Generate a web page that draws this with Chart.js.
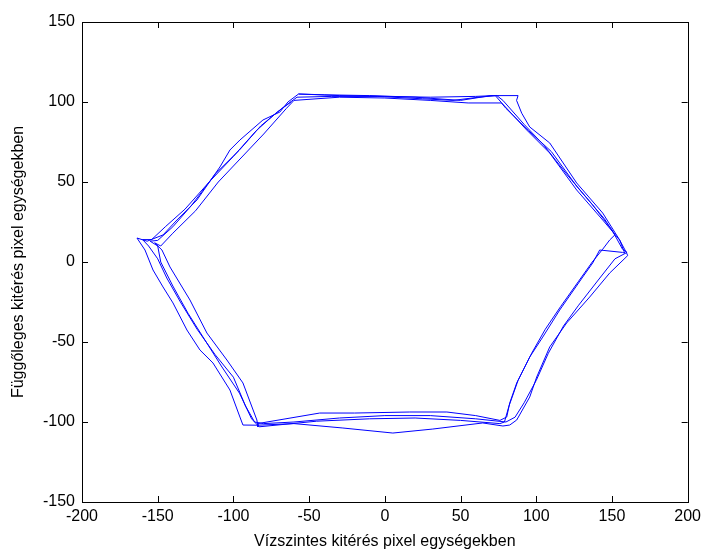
<!DOCTYPE html>
<html>
<head>
<meta charset="utf-8">
<script src="https://cdn.jsdelivr.net/npm/chart.js@4/dist/chart.umd.min.js"></script>
<style>
html,body{margin:0;padding:0;background:#fff;}
#wrap{width:706px;height:552px;}
</style>
</head>
<body>
<div id="wrap"><canvas id="c" width="706" height="552"></canvas></div>
<script>
// Tick labels
const xTickValues = [-200, -150, -100, -50, 0, 50, 100, 150, 200];
const yTickValues = [-150, -100, -50, 0, 50, 100, 150];
const xTitle = 'Vízszintes kitérés pixel egységekben';
const yTitle = 'Függőleges kitérés pixel egységekben';

// Trace, loop by loop
const loop1X = [-57,-30,0,30,60,72,88,87,90.4,95.7,108.9,126.7,143.9,155.1,159.7,160.4,148.5,135.3,120.1,108.9,100.3,95.7,87.1,82.5,78,64.7,31.7,5.3,-27.7,-60,-84,-93.7,-95.7,-102.3,-113.5,-122.1,-130.7,-139.9,-146.5,-153.1,-158.4,-163.7,-157,-146.5,-137.3,-124.1,-108.9,-102.3,-95.7,-80.5,-69.3,-64,-57];
const loop1Y = [105,104,103.5,103,103.5,104,104,101,93,84.4,74.4,49.4,30.6,13.75,5.6,4,-6.9,-21.9,-38.1,-53.1,-71.9,-84.4,-98.75,-101.9,-102.5,-100.6,-104.4,-106.9,-103.75,-101,-102,-101.9,-96.9,-80,-63.1,-55,-42.5,-25.6,-15.6,-5,7.5,15,13,16.9,26.25,38.75,59.4,70,76.25,88.75,93.75,100,105];

const loop2X = [-57,-40,-10,20,50,70,73,77.2,93.7,108.9,126.7,143.9,155.1,158.4,157,141.9,137.3,130.7,115.5,104.3,95.7,87.1,82.5,80.5,76,60,41,16.5,-20,-43,-84,-83.8,-84.5,-93.7,-104.3,-117.5,-128.7,-141.9,-147.2,-152,-148,-140,-125,-110,-95,-80,-65,-60];
const loop2Y = [105,104.5,104,103,101,104,104,99.4,82.5,68.1,45,26.25,13.75,5.6,6,7.5,-0.6,-9.4,-30,-46.9,-59.4,-75.6,-88.1,-96.9,-99,-96,-93.75,-93.75,-94.4,-94.4,-101,-103.1,-98.75,-75.6,-61.25,-44.4,-23.75,-3.1,7.5,12,10,18,32,50,65,80,96,101];

const loop3X = [-60,-30,0,30,55,77,80,95,110,127,145,152,148.5,143.9,137,128,116,106,97,88,82,79,76,50,20,-10,-45,-83,-88,-96,-108,-118,-130,-140,-148,-150,-155,-150,-140,-128,-112,-96,-82,-68,-58];
const loop3Y = [101,103,102.5,101,99.4,99.4,96,82,69,47,27,17,13.75,8,0,-12,-28,-42,-57,-74,-90,-100,-101,-99,-97.5,-98,-99.5,-103,-98,-82,-65,-50,-32,-15,0,10,13,13.5,22,35,55,70,85,96,103];

const loop4X = [-58,-35,-5,25,45,62,74,78,92,105,120,137,150,157,160,152,142,128,118,108,100,92,86,80,60,30,0,-30,-60,-80,-86,-92,-100,-112,-124,-135,-144,-150,-156,-160,-154,-145,-132,-116,-100,-85,-72,-62];
const loop4Y = [103,103.5,103.5,102,101,103,104,101,86,73,55,36,20,8,6,2,-10,-27,-40,-57,-74,-88,-97,-100,-98,-96,-96,-97.5,-100,-101,-100,-90,-72,-58,-42,-25,-10,2,10,14,14,22,33,50,66,82,93,100];

const loopsX = [loop1X, loop2X, loop3X, loop4X];
const loopsY = [loop1Y, loop2Y, loop3Y, loop4Y];
const tracePoints = [];
loopsX.forEach((lx, i) => lx.forEach((x, j) => tracePoints.push({x: x, y: loopsY[i][j]})));

const FONT = 'Liberation Sans, Arial, sans-serif';

const boxTicks = {
  id: 'boxTicks',
  afterDraw(chart) {
    const {ctx, chartArea: a, scales: {x, y}} = chart;
    const tl = 6;
    ctx.save();
    ctx.strokeStyle = '#000';
    ctx.lineWidth = 1;
    ctx.beginPath();
    xTickValues.forEach(v => {
      const px = Math.round(x.getPixelForValue(v)) + 0.5;
      ctx.moveTo(px, a.bottom); ctx.lineTo(px, a.bottom - tl);
      ctx.moveTo(px, a.top); ctx.lineTo(px, a.top + tl);
    });
    yTickValues.forEach(v => {
      const py = Math.round(y.getPixelForValue(v)) + 0.5;
      ctx.moveTo(a.left, py); ctx.lineTo(a.left + tl, py);
      ctx.moveTo(a.right, py); ctx.lineTo(a.right - tl, py);
    });
    ctx.stroke();
    ctx.strokeRect(Math.round(a.left) + 0.5, Math.round(a.top) + 0.5,
      Math.round(a.right - a.left), Math.round(a.bottom - a.top));
    ctx.restore();
  }
};

new Chart(document.getElementById('c'), {
  type: 'scatter',
  data: {
    datasets: [{
      data: tracePoints,
      showLine: true,
      pointRadius: 0,
      borderColor: '#0000ff',
      borderWidth: 1,
      tension: 0,
      fill: false
    }]
  },
  options: {
    responsive: false,
    animation: false,
    devicePixelRatio: 1,
    layout: {padding: {left: 0, top: 22, right: 18, bottom: 0}},
    plugins: {legend: {display: false}, tooltip: {enabled: false}},
    scales: {
      x: {
        type: 'linear', min: -200, max: 200,
        afterBuildTicks: s => { s.ticks = xTickValues.map(v => ({value: v})); },
        afterFit: s => { s.height = 50; },
        grid: {display: true, drawOnChartArea: false, drawTicks: false, color: 'rgba(0,0,0,0)'},
        border: {display: false},
        ticks: {autoSkip: false, maxRotation: 0, padding: 5, color: '#000', font: {family: FONT, size: 16}},
        title: {display: true, text: xTitle, color: '#000', font: {family: FONT, size: 16}, padding: {top: 0, bottom: 1}}
      },
      y: {
        type: 'linear', min: -150, max: 150,
        afterBuildTicks: s => { s.ticks = yTickValues.map(v => ({value: v})); },
        afterFit: s => { s.width = 82; },
        grid: {display: true, drawOnChartArea: false, drawTicks: false, color: 'rgba(0,0,0,0)'},
        border: {display: false},
        ticks: {autoSkip: false, padding: 7, color: '#000', font: {family: FONT, size: 16}},
        title: {display: true, text: yTitle, color: '#000', font: {family: FONT, size: 16}, padding: {top: 9, bottom: 0}}
      }
    }
  },
  plugins: [boxTicks]
});
</script>
</body>
</html>
